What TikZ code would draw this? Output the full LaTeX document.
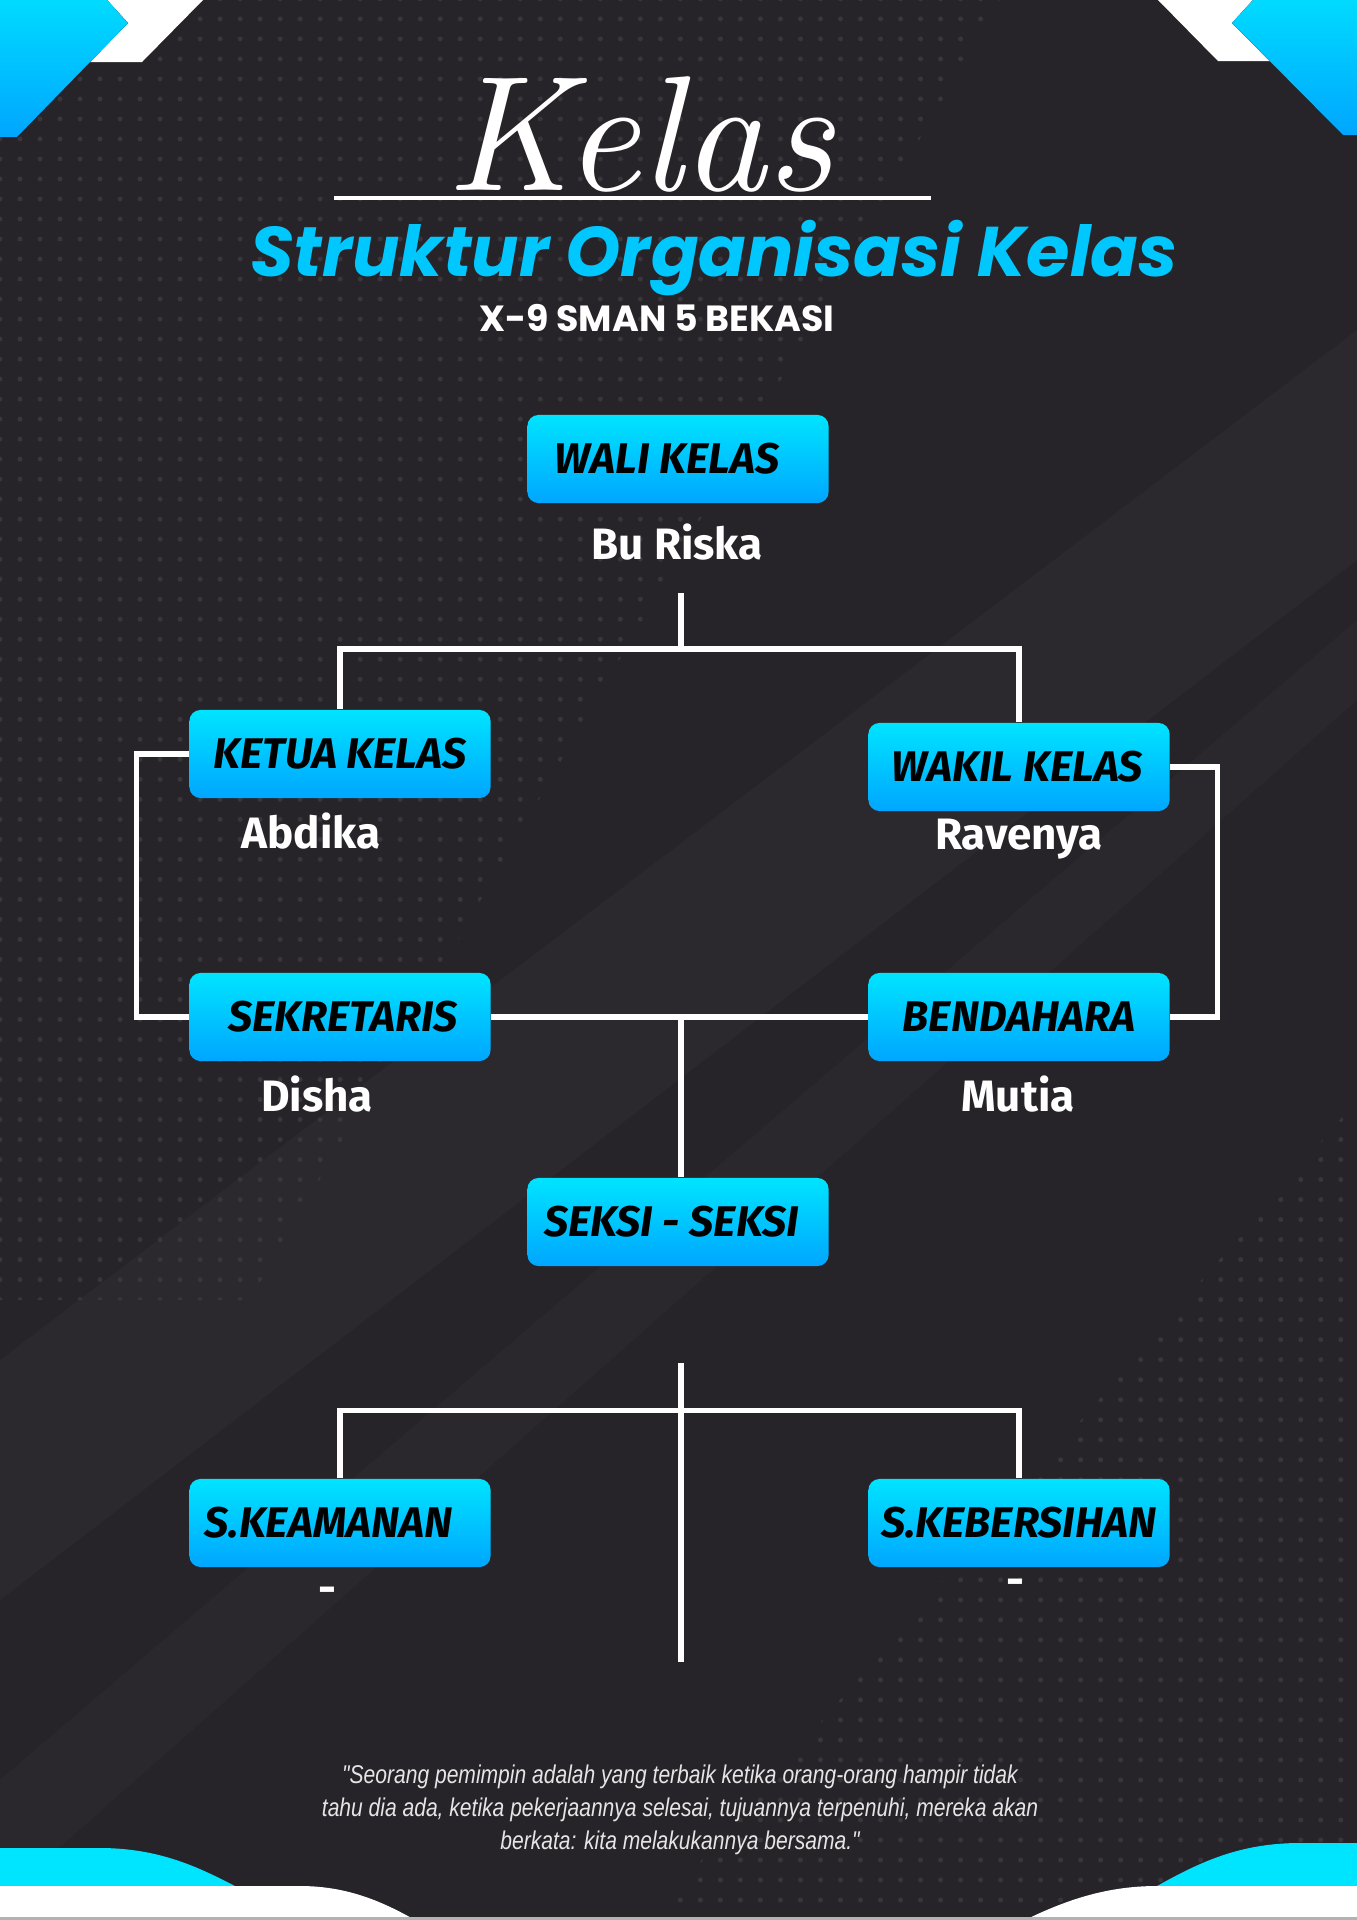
\documentclass[tikz,border=0pt]{standalone}
\usepackage{fontspec}
\newfontfamily\firafont{Fira Sans}
\newfontfamily\judulfont{Poppins}
\newfontfamily\kutipanfont[FakeStretch=0.82]{Liberation Sans}
\usetikzlibrary{patterns.meta}

\definecolor{latar}{RGB}{39,36,41}
\definecolor{titik}{RGB}{56,53,59}
\definecolor{birumuda}{RGB}{0,228,255}
\definecolor{birutua}{RGB}{0,166,255}
\definecolor{judulbiru}{RGB}{0,200,255}
\definecolor{sian}{RGB}{0,229,255}

\begin{document}
\begin{tikzpicture}[x=0.01cm, y=-0.01cm,
    jabatan/.style={rectangle, rounded corners=1.1mm, top color=birumuda, bottom color=birutua,
        minimum width=3.01cm, minimum height=0.88cm, inner sep=0pt, text=black,
        font=\firafont\fontsize{12.2}{14}\selectfont\bfseries\itshape},
    nama/.style={anchor=base, text=white, font=\firafont\fontsize{12.5}{15}\selectfont\bfseries},
    garis/.style={draw=white, line width=1.5pt}]
    \useasboundingbox (0,0) rectangle (1357,1920);
    % background
    \fill[latar] (0,0) rectangle (1357,1920);
    \fill[white, opacity=0.025] (1357,330) -- (1357,560) -- (0,1600) -- (0,1360) -- cycle;
    \fill[white, opacity=0.02] (1357,620) -- (1357,700) -- (0,1900) -- (0,1780) -- cycle;
    \fill[pattern={Dots[distance=2mm, radius=0.25mm]}, pattern color=titik]
        (0,0) -- (1000,0) -- (250,1300) -- (0,1300) -- cycle;
    \fill[pattern={Dots[distance=2mm, radius=0.25mm]}, pattern color=titik]
        (1357,1100) -- (1357,1920) -- (650,1920) -- cycle;

    % corners
    \fill[white] (0,0) -- (203,0) -- (142,62) -- (0,62) -- cycle;
    \fill[top color=birumuda!85!birutua, bottom color=birutua] (0,0) -- (107,0) -- (128,23) -- (17,137) -- (0,137) -- cycle;
    \fill[white] (1158,0) -- (1357,0) -- (1357,61) -- (1218,61) -- cycle;
    \fill[top color=birumuda!85!birutua, bottom color=birutua] (1253,0) -- (1357,0) -- (1357,135) -- (1343,135) -- (1232,23) -- cycle;
    \fill[sian] (0,1848) -- (100,1848) .. controls (160,1848) and (200,1868) .. (235,1886) -- (0,1886) -- cycle;
    \fill[white] (0,1886) -- (300,1886) .. controls (345,1886) and (380,1900) .. (415,1920) -- (0,1920) -- cycle;
    \fill[sian] (1357,1843) -- (1300,1843) .. controls (1240,1843) and (1200,1862) .. (1157,1886) -- (1357,1886) -- cycle;
    \fill[white] (1357,1886) -- (1157,1886) .. controls (1110,1886) and (1070,1898) .. (1025,1920) -- (1357,1920) -- cycle;
    \fill[gray!60] (0,1917) rectangle (1357,1920);

    % title
    \draw[white, line width=1.2pt] (334,198) -- (931,198);
    \node[anchor=base, text=white] (kelasjudul) at (640,190) {\resizebox{3.86cm}{!}{\itshape Kelas}};
    \node[anchor=base, text=judulbiru] (judul) at (714,276) {\resizebox{9.27cm}{!}{\judulfont\bfseries\itshape Struktur Organisasi Kelas}};
    \node[anchor=base, text=white] (kelasnama) at (657,331) {\resizebox{3.55cm}{!}{\judulfont\bfseries X-9 SMAN 5 BEKASI}};

    % pengurus inti
    \node[jabatan] (wali) at (678,459) {WALI KELAS\rule{2.2mm}{0pt}};
    \node[nama] (buriska) at (677,559) {Bu Riska};
    \node[jabatan] (ketua) at (340,754) {KETUA KELAS};
    \node[nama] (abdika) at (311,848) {Abdika};
    \node[jabatan] (wakil) at (1019,767) {WAKIL KELAS\rule{0.3mm}{0pt}};
    \node[nama] (ravenya) at (1019,849) {Ravenya};
    \node[jabatan] (sekretaris) at (340,1017) {\hspace{0.6mm}SEKRETARIS};
    \node[nama] (disha) at (317,1111) {Disha};
    \node[jabatan] (bendahara) at (1019,1017) {BENDAHARA};
    \node[nama] (mutia) at (1018,1111) {Mutia};
    \node[jabatan] (seksi) at (678,1222) {SEKSI - SEKSI\rule{1.3mm}{0pt}};

    % seksi
    \node[jabatan] (keamanan) at (340,1523) {S.KEAMANAN\rule{2.3mm}{0pt}};
    \node[nama] (kosong1) at (327,1603) {-};
    \node[jabatan] (kebersihan) at (1019,1523) {S.KEBERSIHAN};
    \node[nama] (kosong2) at (1015,1595) {-};

    % garis
    \coordinate (atas) at (681,593);
    \coordinate (cabang) at (681,649);
    \draw[garis] (atas) -- (cabang);
    \draw[garis] (ketua.north) -- (ketua.north |- cabang) -- (wakil.north |- cabang) -- (wakil.north);
    \draw[garis] (ketua.west) -- ++(-52,0) |- (sekretaris.west);
    \draw[garis] (wakil.east) -- ++(47,0) |- (bendahara.east);
    \draw[garis] (sekretaris.east) -- (bendahara.west);
    \draw[garis] (atas |- seksi.north) -- (atas |- sekretaris.east);
    \coordinate (tiangatas) at (681,1363);
    \coordinate (tiangbawah) at (681,1662);
    \draw[garis] (tiangatas) -- (tiangbawah);
    \draw[garis] (keamanan.north) -- ++(0,-68) -| (kebersihan.north);

    % kutipan
    \node[text=white!90!black, align=center, font=\kutipanfont\itshape\fontsize{7.3}{9.4}\selectfont] (kutipan) at (680,1810)
        {"Seorang pemimpin adalah yang terbaik ketika orang-orang hampir tidak\\
         tahu dia ada, ketika pekerjaannya selesai, tujuannya terpenuhi, mereka akan\\
         berkata: kita melakukannya bersama."};
\end{tikzpicture}
\end{document}
